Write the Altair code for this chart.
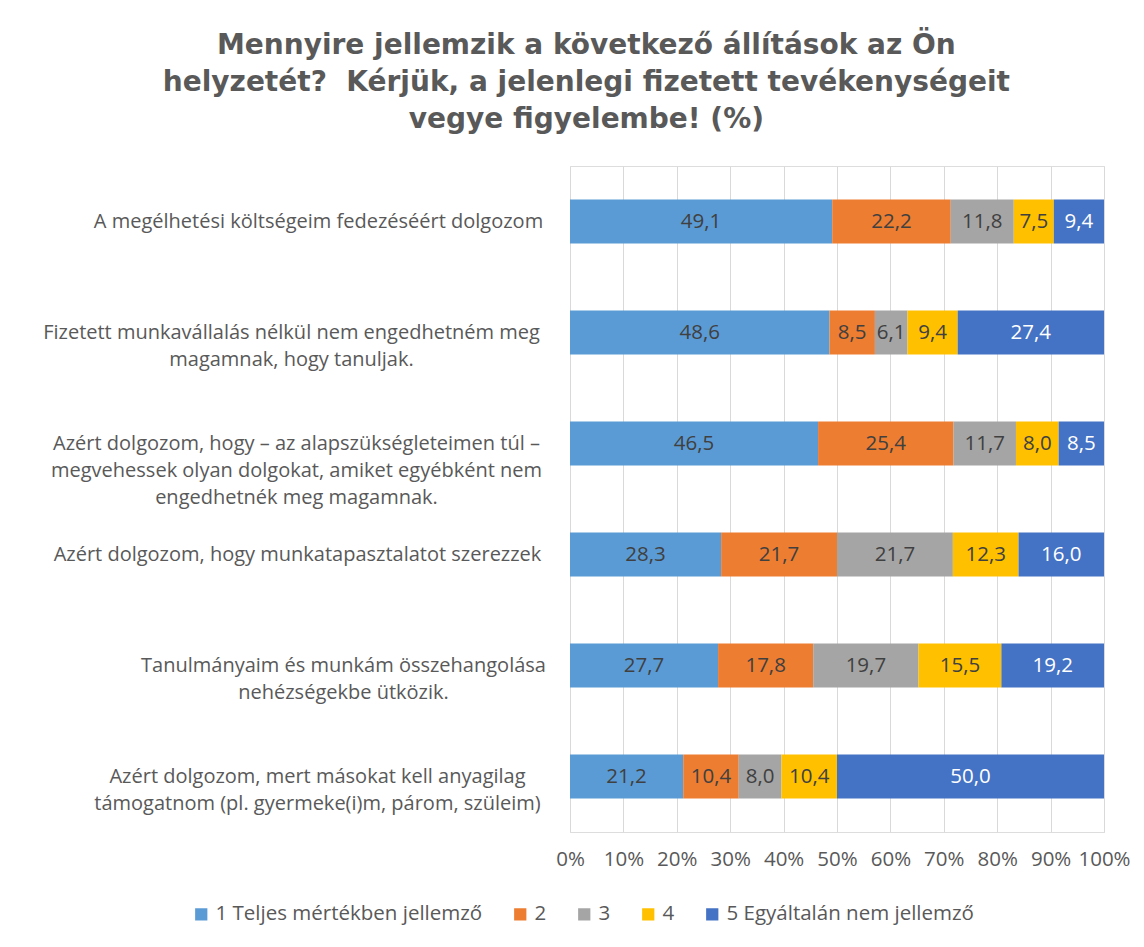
import altair as alt
import pandas as pd

categories = [
    "A megélhetési költségeim fedezéséért dolgozom",
    "Fizetett munkavállalás nélkül nem engedhetném meg|magamnak, hogy tanuljak.",
    "Azért dolgozom, hogy – az alapszükségleteimen túl –|megvehessek olyan dolgokat, amiket egyébként nem|engedhetnék meg magamnak.",
    "Azért dolgozom, hogy munkatapasztalatot szerezzek",
    "Tanulmányaim és munkám összehangolása|nehézségekbe ütközik.",
    "Azért dolgozom, mert másokat kell anyagilag|támogatnom (pl. gyermeke(i)m, párom, szüleim)",
]
series = ["1 Teljes mértékben jellemző", "2", "3", "4", "5 Egyáltalán nem jellemző"]
s1 = [49.1, 48.6, 46.5, 28.3, 27.7, 21.2]
s2 = [22.2, 8.5, 25.4, 21.7, 17.8, 10.4]
s3 = [11.8, 6.1, 11.7, 21.7, 19.7, 8.0]
s4 = [7.5, 9.4, 8.0, 12.3, 15.5, 10.4]
s5 = [9.4, 27.4, 8.5, 16.0, 19.2, 50.0]
colors = ["#5B9BD5", "#ED7D31", "#A5A5A5", "#FFC000", "#4472C4"]
x_ticks = [0, 0.1, 0.2, 0.3, 0.4, 0.5, 0.6, 0.7, 0.8, 0.9, 1.0]

# distance (px) from plot's left edge to the centre of each centred label block
label_offsets = [252, 279, 274, 273, 227, 253]

rows = []
for si, (name, vals) in enumerate(zip(series, [s1, s2, s3, s4, s5])):
    for ci, cat in enumerate(categories):
        rows.append({"cat": cat, "series": name, "ord": si, "value": vals[ci]})
df = pd.DataFrame(rows)

FONT = "Open Sans"
TXT = "#595959"
FS = 20.5

pad_cond = {
    "condition": [
        {"test": f"datum.value == {cat!r}", "value": off}
        for cat, off in zip(categories, label_offsets)
    ],
    "value": 255,
}

base = alt.Chart(df)

bars = base.mark_bar(size=44).encode(
    y=alt.Y("cat:N", sort=categories, title=None,
            scale=alt.Scale(paddingInner=0.6, paddingOuter=0.3),
            axis=alt.Axis(labelExpr="split(datum.label, '|')", domain=False, ticks=False,
                          labelAlign="center", labelLimit=0, labelFontSize=20,
                          labelLineHeight=27, labelPadding=pad_cond, labelColor=TXT,
                          labelFont=FONT, labelOverlap=False, labelBound=False)),
    x=alt.X("value:Q", stack="normalize", title=None,
            scale=alt.Scale(domain=[0, 1]),
            axis=alt.Axis(values=x_ticks, format=".0%", domain=False, ticks=False,
                          gridColor="#D9D9D9", labelFontSize=FS, labelColor=TXT,
                          labelFont=FONT, labelPadding=17, labelOverlap=False,
                          labelFlush=False)),
    color=alt.Color("series:N", sort=series,
                    scale=alt.Scale(domain=series, range=colors),
                    legend=alt.Legend(title=None, orient="none", direction="horizontal",
                                      legendX=-379, legendY=738, symbolType="square",
                                      symbolSize=150, symbolStrokeWidth=0,
                                      labelFontSize=FS, labelColor=TXT, labelFont=FONT,
                                      labelLimit=0, columnPadding=27, labelOffset=4)),
    order=alt.Order("ord:Q"),
)

labels = base.transform_joinaggregate(
    total="sum(value)", groupby=["cat"]
).transform_window(
    cum="sum(value)", sort=[alt.SortField("ord")], groupby=["cat"]
).transform_calculate(
    mid="(datum.cum - datum.value / 2) / datum.total",
    lab="replace(format(datum.value, '.1f'), '.', ',')",
).mark_text(fontSize=FS, font=FONT).encode(
    y=alt.Y("cat:N", sort=categories),
    x=alt.X("mid:Q"),
    text="lab:N",
    color=alt.condition("datum.ord == 4", alt.value("white"), alt.value("#404040")),
)

chart = alt.layer(bars, labels).properties(
    width=534, height=666,
    autosize=alt.AutoSizeParams(type="none"),
    padding={"left": 562, "top": 158, "right": 32, "bottom": 110},
    title=alt.Title(
        ["Mennyire jellemzik a következő állítások az Ön",
         "helyzetét?\u00a0 Kérjük, a jelenlegi fizetett tevékenységeit",
         "vegye figyelembe! (%)"],
        font="DejaVu Sans", fontSize=28, fontWeight="bold", color=TXT,
        lineHeight=37, anchor="middle", frame="bounds", offset=32,
    ),
).configure_view(stroke=None).configure(background="white")

chart.save("out.html", embed_options={"renderer": "svg", "actions": False})
